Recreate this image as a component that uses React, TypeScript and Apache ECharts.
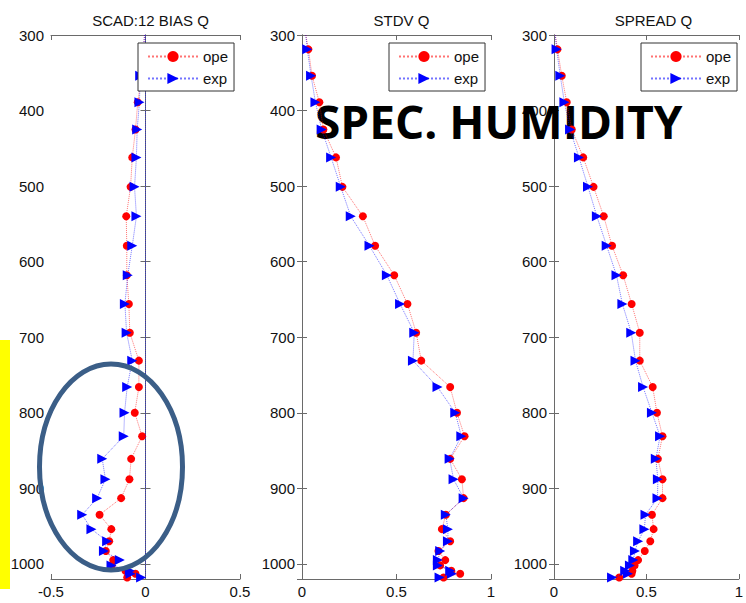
import React, { useEffect, useRef } from "react";
import * as echarts from "echarts";

const LEVELS = [300, 319, 354, 389, 425, 462, 501, 540, 579, 618, 656, 694, 731, 766, 800, 831, 861, 888, 913, 935, 954, 970, 983, 995, 1002, 1009, 1013, 1018];

const BIAS_OPE = [-0.005, -0.01, -0.02, -0.041, -0.053, -0.07, -0.079, -0.102, -0.099, -0.099, -0.088, -0.083, -0.035, -0.035, -0.057, -0.018, -0.076, -0.085, -0.129, -0.243, -0.181, -0.192, -0.21, -0.171, -0.18, -0.106, -0.053, -0.097];
const BIAS_EXP = [-0.005, -0.012, -0.028, -0.032, -0.044, -0.048, -0.058, -0.048, -0.07, -0.094, -0.109, -0.1, -0.07, -0.097, -0.111, -0.115, -0.229, -0.212, -0.256, -0.335, -0.286, -0.203, -0.22, -0.136, -0.18, -0.083, -0.079, -0.023];

const STDV_OPE = [0.02, 0.034, 0.053, 0.092, 0.113, 0.18, 0.214, 0.322, 0.387, 0.488, 0.558, 0.604, 0.631, 0.784, 0.82, 0.86, 0.784, 0.846, 0.855, 0.761, 0.74, 0.784, 0.722, 0.758, 0.731, 0.79, 0.837, 0.749];
const STDV_EXP = [0.02, 0.028, 0.048, 0.071, 0.104, 0.154, 0.205, 0.258, 0.357, 0.449, 0.519, 0.594, 0.587, 0.717, 0.811, 0.843, 0.781, 0.802, 0.855, 0.761, 0.772, 0.772, 0.731, 0.719, 0.719, 0.784, 0.793, 0.728];

const SPREAD_OPE = [0.007, 0.019, 0.042, 0.069, 0.096, 0.158, 0.214, 0.269, 0.314, 0.374, 0.42, 0.464, 0.464, 0.534, 0.557, 0.587, 0.562, 0.587, 0.587, 0.53, 0.539, 0.521, 0.491, 0.455, 0.436, 0.424, 0.42, 0.353];
const SPREAD_EXP = [0.007, 0.014, 0.034, 0.056, 0.087, 0.135, 0.184, 0.232, 0.285, 0.338, 0.37, 0.418, 0.441, 0.482, 0.53, 0.574, 0.551, 0.562, 0.56, 0.495, 0.489, 0.455, 0.438, 0.429, 0.411, 0.385, 0.4, 0.314];

const TITLES = ["SCAD:12 BIAS Q", "STDV Q", "SPREAD Q"];
const X_MIN = [-0.5, 0, 0];
const X_MAX = [0.5, 1, 1];
const X_INTERVAL = 0.5;
const Y_MIN = 300;
const Y_MAX = 1020;
const Y_INTERVAL = 100;
const SERIES_NAMES = ["ope", "exp"];
const PANEL_DATA = [
  [BIAS_OPE, BIAS_EXP],
  [STDV_OPE, STDV_EXP],
  [SPREAD_OPE, SPREAD_EXP],
];
const ZERO_LINE = 0;

const GRID_LEFT = [51, 302, 554];
const GRID_TOP = 35;
const GRID_W = 189;
const GRID_H = 544;
const FONT = "Liberation Sans";
const AXIS_COLOR = "#6a6a6a";

function buildPoints(xs: number[]) {
  return xs.map((x, i) =>
    i === 0 ? { value: [x, LEVELS[i]], symbol: "none" } : { value: [x, LEVELS[i]] }
  );
}

export default function App() {
  const ref = useRef<HTMLDivElement>(null);
  useEffect(() => {
    if (!ref.current) return;
    const chart = echarts.init(ref.current, undefined, { renderer: "svg" });
    const grids: any[] = [];
    const xAxes: any[] = [];
    const yAxes: any[] = [];
    const series: any[] = [];
    const titles: any[] = [];
    const legends: any[] = [];
    for (let i = 0; i < 3; i++) {
      grids.push({ left: GRID_LEFT[i], top: GRID_TOP, width: GRID_W, height: GRID_H, show: false });
      const axLine = { show: true, lineStyle: { color: AXIS_COLOR, width: 1 } };
      const tick = { show: true, inside: true, length: 5, lineStyle: { color: AXIS_COLOR } };
      xAxes.push({
        type: "value", gridIndex: i, position: "bottom", min: X_MIN[i], max: X_MAX[i], interval: X_INTERVAL,
        axisLine: axLine, axisTick: tick, splitLine: { show: false },
        axisLabel: { color: "#111", fontSize: 15, fontFamily: FONT, margin: 5, formatter: (v: number) => String(v) },
      });
      xAxes.push({
        type: "value", gridIndex: i, position: "top", min: X_MIN[i], max: X_MAX[i], interval: X_INTERVAL,
        axisLine: axLine, axisTick: tick, splitLine: { show: false }, axisLabel: { show: false },
      });
      yAxes.push({
        type: "value", gridIndex: i, position: "left", inverse: true, min: Y_MIN, max: Y_MAX, interval: Y_INTERVAL,
        axisLine: axLine, axisTick: tick, splitLine: { show: false },
        axisLabel: {
          color: "#111", fontSize: 15, fontFamily: FONT, margin: 7, showMaxLabel: false,
          formatter: (v: number) => String(v),
        },
      });
      yAxes.push({
        type: "value", gridIndex: i, position: "right", inverse: true, min: Y_MIN, max: Y_MAX, interval: Y_INTERVAL,
        axisLine: axLine, axisTick: tick, splitLine: { show: false }, axisLabel: { show: false },
      });
      const [ope, exp] = PANEL_DATA[i];
      series.push({
        name: SERIES_NAMES[0], type: "line", xAxisIndex: 2 * i, yAxisIndex: 2 * i,
        data: buildPoints(ope), symbol: "circle", symbolSize: 8,
        itemStyle: { color: "#ff0000" },
        lineStyle: { color: "#ff0000", width: 1, type: "dotted", opacity: 0.55 },
        z: 2,
      });
      const expSeries: any = {
        name: SERIES_NAMES[1], type: "line", xAxisIndex: 2 * i, yAxisIndex: 2 * i,
        data: buildPoints(exp), symbol: "triangle", symbolSize: 10, symbolRotate: -90,
        itemStyle: { color: "#0000ff" },
        lineStyle: { color: "#0000ff", width: 1, type: "dotted", opacity: 0.55 },
        z: 3,
      };
      if (i === 0) {
        expSeries.markLine = {
          silent: true, symbol: "none", label: { show: false },
          lineStyle: { color: "#0000ff", type: "dotted", width: 1, opacity: 0.55 },
          data: [{ xAxis: ZERO_LINE }],
        };
      }
      series.push(expSeries);
      titles.push({
        text: TITLES[i], left: GRID_LEFT[i] + GRID_W / 2, top: 8, textAlign: "center",
        textStyle: { fontSize: 15, fontWeight: "normal", fontFamily: FONT, color: "#111" },
      });
      legends.push({
        data: SERIES_NAMES, orient: "vertical", left: GRID_LEFT[i] + 87, top: 43,
        itemWidth: 50, itemHeight: 14, itemGap: 7, padding: [6, 6, 5, 9],
        backgroundColor: "#fff", borderColor: "#333", borderWidth: 1, borderRadius: 0,
        textStyle: { fontSize: 15, fontFamily: FONT, color: "#111" },
        selectedMode: false, z: 20,
      });
    }
    chart.setOption({
      animation: false,
      backgroundColor: "#fff",
      title: titles,
      legend: legends,
      grid: grids,
      xAxis: xAxes,
      yAxis: yAxes,
      series,
      graphic: [
        {
          type: "text", left: 315, top: 98, z: 1,
          style: { text: "SPEC. HUMIDITY", fill: "#000", font: "bold 46px 'Open Sans'" },
        },
        { type: "rect", shape: { x: 0, y: 340, width: 10, height: 249 }, style: { fill: "#ffff00" }, z: 50 },
        {
          type: "ellipse", shape: { cx: 111, cy: 467, rx: 71.5, ry: 103 },
          style: { fill: "none", stroke: "#3b5e87", lineWidth: 5 }, z: 50,
        },
      ],
    });
    return () => chart.dispose();
  }, []);
  return <div ref={ref} style={{ position: "fixed", left: 0, top: 0, width: 746, height: 603 }} />;
}
